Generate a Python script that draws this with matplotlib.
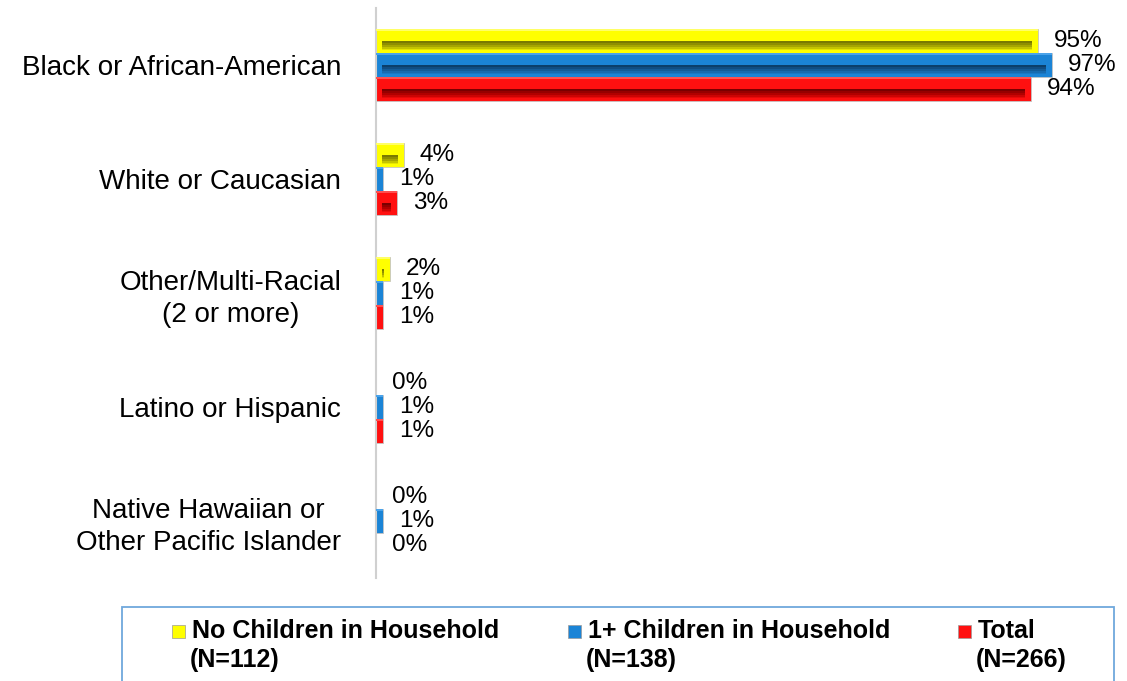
import matplotlib
matplotlib.use("Agg")
import matplotlib.pyplot as plt
import matplotlib.patches as mpatches
import numpy as np

plt.rcParams['font.family'] = ['Liberation Sans', 'DejaVu Sans']

categories = ["Black or African-American", "White or Caucasian",
              "Other/Multi-Racial\n(2 or more)", "Latino or Hispanic",
              "Native Hawaiian or\nOther Pacific Islander"]
legend_line1 = ["No Children in Household", "1+ Children in Household", "Total"]
legend_line2 = ["(N=112)", "(N=138)", "(N=266)"]
no_children = [95, 4, 2, 0, 0]
with_children = [97, 1, 1, 1, 1]
total = [94, 3, 1, 1, 0]
series_values = [no_children, with_children, total]
base_colors = ["#ffff00", "#1b84d6", "#ff1010"]
# shading bands (fraction from top, fraction end, colour) for a bevelled look
shades = [
    [(0.0, 0.10, "#ffff66"), (0.50, 0.58, "#7a7a00"), (0.58, 0.66, "#8f8f00"),
     (0.66, 0.74, "#a6a600"), (0.74, 0.82, "#c4c400"), (0.82, 0.88, "#e6e600")],
    [(0.0, 0.10, "#4aa3ea"), (0.50, 0.58, "#0b3f6b"), (0.58, 0.66, "#104d82"),
     (0.66, 0.74, "#145c98"), (0.74, 0.82, "#176bb0"), (0.82, 0.88, "#1978c4")],
    [(0.0, 0.10, "#ff5050"), (0.50, 0.58, "#7a0000"), (0.58, 0.66, "#960000"),
     (0.66, 0.74, "#b00000"), (0.74, 0.82, "#cc0404"), (0.82, 0.88, "#e80a0a")],
]

W, H = 1127, 681
fig = plt.figure(figsize=(W / 100, H / 100), dpi=100)
ax = fig.add_axes([376 / W, 103 / H, (1073 - 376) / W, 570 / H])

n = len(categories)
y = np.arange(n)
bar_h = 0.21
offsets = [-bar_h, 0, bar_h]
bevel = 0.9

for vals, off, c, bands in zip(series_values, offsets, base_colors, shades):
    pos = y + off
    vals = np.array(vals, dtype=float)
    ax.barh(pos, vals, height=bar_h, color=c, edgecolor="#c4c4c4",
            linewidth=0.6, zorder=2)
    inner_w = np.clip(vals - 2 * bevel, 0, None)
    left = np.where(inner_w > 0, bevel, 0)
    for f0, f1, bc in bands:
        centre = (f0 + f1) / 2 - 0.5
        if f0 == 0.0:
            ax.barh(pos + bar_h * centre, vals, height=bar_h * (f1 - f0),
                    color=bc, linewidth=0, zorder=3)
        else:
            ax.barh(pos + bar_h * centre, inner_w, left=left,
                    height=bar_h * (f1 - f0), color=bc, linewidth=0, zorder=3)
    for p, v in zip(pos, vals):
        ax.annotate(f"{v:.0f}%", xy=(v, p), xytext=(11.5, 0),
                    textcoords="offset points", va="center", ha="left",
                    fontsize=17.5, color="#000000", zorder=4)

ax.set_xlim(0, 100)
ax.set_ylim(n - 0.5, -0.5)
ax.set_yticks(y)
ax.set_yticklabels(categories, fontsize=20, linespacing=1.3)
ax.tick_params(axis="y", length=0, pad=25)
ax.set_xticks([])
for s in ["top", "right", "bottom"]:
    ax.spines[s].set_visible(False)
ax.spines["left"].set_color("#d0d0d0")
ax.spines["left"].set_linewidth(1.5)
for lbl in ax.get_yticklabels():
    lbl.set_multialignment("center")

# legend box (bottom edge lies outside the picture, as in the reference)
def fx(px):
    return px / W

def fy(py):
    return 1 - py / H

rect = mpatches.Rectangle((fx(122), fy(700)), fx(1114) - fx(122), fy(607) - fy(700),
                          transform=fig.transFigure, fill=False,
                          edgecolor="#6fa8dc", linewidth=1.3)
fig.patches.append(rect)

marker_x = [172, 568, 958]
text_x = [192, 588, 978]
for mx, tx, c, l1, l2 in zip(marker_x, text_x, base_colors, legend_line1, legend_line2):
    sq = mpatches.Rectangle((fx(mx), fy(638)), fx(13), fy(625) - fy(638),
                            transform=fig.transFigure, facecolor=c,
                            edgecolor="#9a9a9a", linewidth=0.5)
    fig.patches.append(sq)
    fig.text(fx(tx), fy(631), l1, fontsize=18, fontweight="bold",
             ha="left", va="center")
    fig.text(fx(tx - 2), fy(660), l2, fontsize=18, fontweight="bold",
             ha="left", va="center")

fig.savefig("out.png", dpi=100)
